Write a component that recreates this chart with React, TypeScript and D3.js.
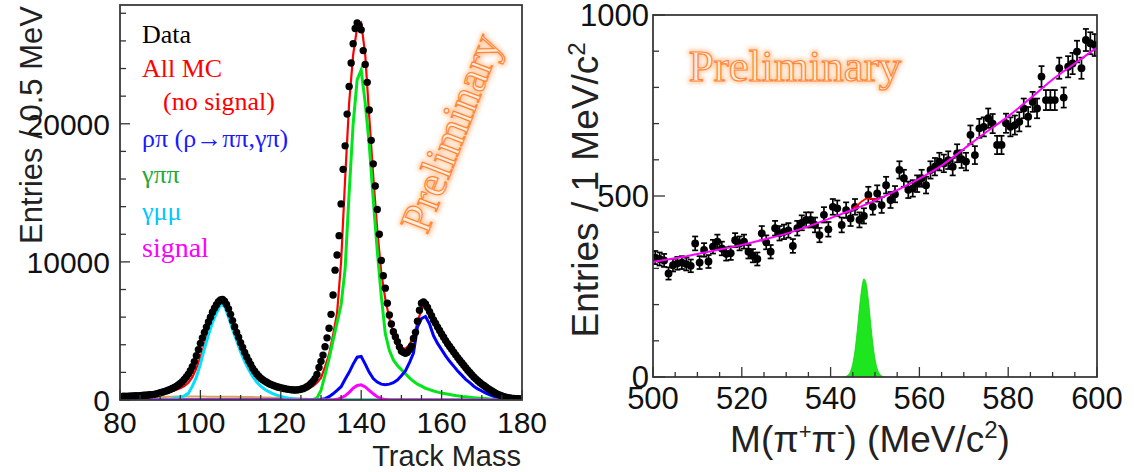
import React from "react";
import * as d3 from "d3";

// ---------------- Left panel: Track Mass ----------------
const dataStart = 80;
const dataBin = 0.5;
// Data entries per 0.5 MeV bin, 80.0 ... 180.0
const dataCounts = [
  260, 250, 270, 260, 280, 270, 290, 290, 310, 300,
  320, 330, 340, 350, 360, 375, 390, 410, 440, 480,
  530, 570, 610, 660, 710, 770, 830, 900, 990, 1090,
  1200, 1330, 1480, 1660, 1870, 2120, 2420, 2780, 3200, 3650,
  4100, 4500, 4900, 5280, 5650, 6000, 6350, 6650, 6900, 7120,
  7250, 7280, 7150, 6920, 6600, 6200, 5750, 5300, 4900, 4550,
  4150, 3800, 3450, 3140, 2850, 2580, 2300, 2080, 1880, 1720,
  1580, 1470, 1370, 1280, 1200, 1130, 1070, 1010, 960, 920,
  880, 850, 820, 790, 770, 750, 730, 720, 730, 750,
  780, 820, 880, 960, 1060, 1190, 1340, 1550, 1850, 2350,
  2800, 3250, 3860, 4500, 5200, 6200, 7600, 9400, 10500, 11900,
  14200, 16700, 18400, 20700, 22700, 24400, 25800, 26900, 27300, 27100,
  26800, 25300, 24300, 23000, 21000, 18800, 17100, 15500, 13800, 12000,
  10100, 9000, 8100, 7000, 6150, 5500, 4950, 4580, 4230, 3850,
  3550, 3450, 3380, 3450, 3650, 3900, 4450, 4900, 5700, 6500,
  7000, 7100, 6950, 6700, 6400, 6100, 5800, 5550, 5280, 5030,
  4780, 4550, 4300, 4080, 3870, 3670, 3470, 3270, 3070, 2880,
  2700, 2520, 2340, 2160, 1990, 1830, 1670, 1530, 1400, 1270,
  1150, 1050, 940, 840, 740, 650, 560, 480, 410, 350,
  290, 240, 200, 170, 140, 120, 110, 100, 90, 80,
  80,
];

// MC histograms per 1 MeV, 80 ... 180
const mcStart = 80;
const mcBin = 1;
const allMC = [
  280, 290, 300, 310, 320, 330, 345, 360, 380, 410,
  450, 500, 560, 640, 740, 860, 1000, 1250, 1650, 2300,
  3100, 4000, 5000, 6000, 6900, 7400, 7100, 6500, 5700, 4850,
  4100, 3400, 2800, 2250, 1850, 1550, 1330, 1160, 1030, 930,
  850, 780, 720, 680, 660, 680, 740, 850, 1000, 1250,
  1600, 2400, 3300, 4700, 6300, 10000, 16000, 21500, 25000, 27000,
  27300, 25000, 20500, 16200, 12300, 9200, 7300, 5900, 4900, 4200,
  3800, 3700, 4000, 4600, 5600, 6600, 6800, 6400, 5900, 5350,
  4850, 4400, 3950, 3550, 3150, 2800, 2450, 2150, 1850, 1550,
  1300, 1050, 830, 640, 480, 350, 250, 170, 110, 80,
  60,
];
const rhoPi = [
  0, 0, 0, 0, 0, 0, 0, 0, 0, 0,
  0, 0, 0, 0, 0, 0, 0, 0, 0, 0,
  0, 0, 0, 0, 0, 0, 0, 0, 0, 0,
  0, 0, 0, 0, 0, 0, 0, 0, 0, 0,
  0, 0, 0, 0, 0, 0, 0, 0, 0, 20,
  50, 100, 240, 450, 700, 960, 1500, 2000, 2600, 3100,
  3150, 2600, 2000, 1550, 1300, 1150, 1100, 1150, 1250, 1450,
  1750, 2100, 2700, 3400, 5300, 5900, 6050, 5500, 4650, 4100,
  3650, 3200, 2800, 2450, 2100, 1800, 1500, 1250, 1000, 800,
  650, 500, 370, 260, 160, 90, 40, 10, 0, 0,
  0,
];
const gammaPiPi = [
  0, 0, 0, 0, 0, 0, 0, 0, 0, 0,
  0, 0, 0, 0, 0, 0, 0, 0, 0, 0,
  0, 0, 0, 0, 0, 0, 0, 0, 0, 0,
  0, 0, 0, 0, 0, 0, 0, 0, 0, 0,
  0, 0, 0, 0, 0, 0, 0, 0, 20, 150,
  700, 1800, 3000, 4300, 5600, 6900, 9500, 15000, 20000, 23200,
  23900, 21500, 18500, 14500, 10800, 7500, 4800, 3600, 2900, 2500,
  2200, 1900, 1600, 1350, 1150, 1000, 850, 750, 650, 570,
  500, 450, 400, 350, 300, 260, 230, 200, 170, 140,
  120, 100, 80, 60, 45, 30, 20, 10, 5, 0,
  0,
];
const gammaMuMu = [
  0, 0, 0, 0, 0, 0, 0, 0, 0, 0,
  10, 20, 40, 70, 120, 200, 300, 480, 1000, 1650,
  2600, 3700, 4700, 5600, 6300, 6900, 6800, 6000, 5100, 4300,
  3500, 2800, 2200, 1700, 1300, 1000, 780, 600, 460, 350,
  260, 190, 130, 90, 60, 35, 15, 5, 0, 0,
  0, 0, 0, 0, 0, 0, 0, 0, 0, 0,
  0, 0, 0, 0, 0, 0, 0, 0, 0, 0,
  0, 0, 0, 0, 0, 0, 0, 0, 0, 0,
  0, 0, 0, 0, 0, 0, 0, 0, 0, 0,
  0, 0, 0, 0, 0, 0, 0, 0, 0, 0,
  0,
];
const signalMC = [
  0, 0, 0, 0, 0, 0, 0, 0, 0, 0,
  0, 0, 0, 0, 0, 0, 0, 0, 0, 0,
  0, 0, 0, 0, 0, 0, 0, 0, 0, 0,
  0, 0, 0, 0, 0, 0, 0, 0, 0, 0,
  0, 0, 0, 0, 0, 0, 0, 0, 0, 0,
  0, 0, 0, 0, 50, 150, 300, 550, 850, 1050,
  1100, 950, 700, 450, 230, 100, 30, 0, 0, 0,
  0, 0, 0, 0, 0, 0, 0, 0, 0, 0,
  0, 0, 0, 0, 0, 0, 0, 0, 0, 0,
  0, 0, 0, 0, 0, 0, 0, 0, 0, 0,
  0,
];
const otherMC = [
  0, 0, 0, 0, 0, 0, 50, 100, 150, 180,
  200, 220, 230, 240, 250, 250, 250, 250, 250, 250,
  250, 250, 240, 240, 240, 240, 230, 230, 230, 230,
  220, 220, 210, 210, 200, 200, 190, 180, 170, 160,
  150, 140, 130, 120, 110, 100, 90, 80, 80, 70,
  70, 70, 60, 60, 60, 60, 60, 60, 60, 60,
  60, 60, 60, 60, 60, 60, 60, 60, 60, 60,
  60, 60, 60, 55, 55, 50, 50, 50, 45, 45,
  40, 40, 35, 35, 30, 30, 25, 25, 20, 20,
  15, 15, 10, 10, 5, 5, 0, 0, 0, 0,
  0,
];
const leftXTicks = [80, 100, 120, 140, 160, 180];
const leftYTicks = [0, 10000, 20000];
const legendItems = [
  { label: "Data", color: "#000000" },
  { label: "All MC", color: "#ff0000" },
  { label: "(no signal)", color: "#ff0000" },
  { label: "ρπ (ρ→ππ,γπ)", color: "#1a1aff" },
  { label: "γππ", color: "#22aa33" },
  { label: "γμμ", color: "#00c8ff" },
  { label: "signal", color: "#ff00ff" },
];

// ---------------- Right panel: M(pi+ pi-) ----------------
const rightStart = 500.5;
const rightBin = 1;
const rightCounts = [
  330, 326, 322, 286, 309, 314, 316, 312, 307, 369,
  316, 351, 319, 360, 374, 355, 340, 342, 378, 369,
  374, 346, 335, 326, 397, 372, 346, 411, 397, 401,
  405, 362, 411, 426, 434, 434, 420, 392, 448, 408,
  470, 466, 420, 461, 438, 470, 434, 445, 503, 470,
  507, 475, 530, 489, 505, 572, 549, 517, 521, 534,
  549, 530, 572, 581, 595, 590, 599, 581, 618, 602,
  595, 669, 613, 687, 691, 715, 700, 641, 641, 701,
  691, 696, 705, 742, 719, 760, 742, 830, 765, 765,
  765, 853, 772, 857, 866, 899, 853, 931, 922, 917,
];
const fitMass = [500, 505, 510, 515, 520, 525, 530, 535, 540, 545, 550, 555, 560, 565, 570, 575, 580, 585, 590, 595, 600];
const fitBackground = [318, 328, 340, 352, 365, 380, 396, 416, 439, 462, 487, 516, 548, 584, 630, 676, 720, 770, 822, 866, 910];
const fitTotalMass = [545, 546, 547, 548, 549, 550, 551];
const fitTotal = [466, 474, 485, 493, 493, 490, 494];
const signalMass = [543, 543.5, 544, 544.5, 545, 545.5, 546, 546.5, 547, 547.5, 548, 548.5, 549, 549.5, 550, 550.5, 551, 551.5, 552];
const signalShape = [0, 2, 6, 16, 37, 74, 128, 190, 244, 271, 259, 214, 152, 94, 50, 23, 9, 3, 0];
const rightXTicks = [500, 520, 540, 560, 580, 600];
const rightYTicks = [0, 500, 1000];

const SANS = "'Liberation Sans', Arial, Helvetica, sans-serif";
const SERIF = "'Liberation Serif', 'Times New Roman', serif";

function Preliminary({ x, y, angle, size }: { x: number; y: number; angle: number; size: number }) {
  return (
    <g transform={`translate(${x},${y}) rotate(${angle})`}>
      <text
        textAnchor="middle"
        y={size * 0.33}
        fontFamily={SERIF}
        fontSize={size}
        fill="none"
        stroke="#ffa866"
        strokeWidth={4.5}
        opacity={0.6}
        filter="url(#glow)"
      >
        Preliminary
      </text>
      <text
        textAnchor="middle"
        y={size * 0.33}
        fontFamily={SERIF}
        fontSize={size}
        fill="#ffeede"
        stroke="#ff8636"
        strokeWidth={1.2}
      >
        Preliminary
      </text>
    </g>
  );
}

export default function App() {
  // left scales
  const xL = d3.scaleLinear().domain([80, 180]).range([120, 522]);
  const yL = d3.scaleLinear().domain([0, 28600]).range([400, 5]);
  // right scales
  const xR = d3.scaleLinear().domain([500, 600]).range([653, 1097]);
  const yR = d3.scaleLinear().domain([0, 1000]).range([377, 15]);

  const mcPath = (vals: number[]) =>
    d3
      .line<number>()
      .x((_, i) => xL(mcStart + i * mcBin))
      .y((v) => yL(v))(vals) || "";

  const leftMinorX = d3.range(80, 181, 5);
  const leftMinorY = d3.range(0, 28001, 2000);
  const rightMinorX = d3.range(500, 601, 5);
  const rightMinorY = d3.range(0, 1001, 100);

  const bgPath =
    d3
      .line<number>()
      .x((_, i) => xR(fitMass[i]))
      .y((v) => yR(v))
      .curve(d3.curveMonotoneX)(fitBackground) || "";
  const totPath =
    d3
      .line<number>()
      .x((_, i) => xR(fitTotalMass[i]))
      .y((v) => yR(v))(fitTotal) || "";
  const sigArea =
    d3
      .area<number>()
      .x((_, i) => xR(signalMass[i]))
      .y0(yR(0))
      .y1((v) => yR(v))
      .curve(d3.curveMonotoneX)(signalShape) || "";

  return (
    <svg
      width={1134}
      height={472}
      style={{ position: "absolute", left: 0, top: 0, background: "#fff" }}
      fontFamily={SANS}
    >
      <defs>
        <filter id="glow" x="-20%" y="-20%" width="140%" height="140%">
          <feGaussianBlur stdDeviation="2" />
        </filter>
        <clipPath id="clipL">
          <rect x={120} y={5} width={402} height={395} />
        </clipPath>
        <clipPath id="clipR">
          <rect x={653} y={15} width={444} height={362} />
        </clipPath>
      </defs>
      <rect x={0} y={0} width={1134} height={472} fill="#fff" />

      {/* ================= LEFT PANEL ================= */}
      <g clipPath="url(#clipL)">
        <path d={mcPath(otherMC)} fill="none" stroke="#d9a066" strokeWidth={2} />
        <path d={mcPath(allMC)} fill="none" stroke="#ff0000" strokeWidth={2.2} />
        <path d={mcPath(gammaPiPi)} fill="none" stroke="#00e61a" strokeWidth={3} />
        <path d={mcPath(rhoPi)} fill="none" stroke="#0000ff" strokeWidth={3} />
        <path d={mcPath(gammaMuMu)} fill="none" stroke="#00e0ff" strokeWidth={3} />
        <path d={mcPath(signalMC)} fill="none" stroke="#ff00ff" strokeWidth={3} />
        {dataCounts.map((v, i) => (
          <circle key={i} cx={xL(dataStart + i * dataBin)} cy={yL(v)} r={3.7} fill="#000" />
        ))}
      </g>
      {/* frame */}
      <rect x={120} y={5} width={402} height={395} fill="none" stroke="#3a3a3a" strokeWidth={1.8} />
      {/* ticks */}
      {leftMinorY.map((v) => (
        <line key={"ly" + v} x1={120} x2={120 + (v % 10000 === 0 ? 10 : 6)} y1={yL(v)} y2={yL(v)} stroke="#333" strokeWidth={1.3} />
      ))}
      {leftMinorX.map((v) => (
        <line key={"lx" + v} x1={xL(v)} x2={xL(v)} y1={400} y2={400 - (v % 20 === 0 ? 10 : 5)} stroke="#333" strokeWidth={1.3} />
      ))}
      {leftYTicks.map((v) => (
        <text key={"lyt" + v} x={110} y={yL(v) + 11} textAnchor="end" fontSize={30} fill="#111">
          {v}
        </text>
      ))}
      {leftXTicks.map((v) => (
        <text key={"lxt" + v} x={xL(v)} y={433} textAnchor="middle" fontSize={30} fill="#111">
          {v}
        </text>
      ))}
      <text x={521} y={466} textAnchor="end" fontSize={29} fill="#222">
        Track Mass
      </text>
      <text transform="translate(42,125) rotate(-90)" textAnchor="middle" fontSize={31} fill="#222">
        Entries / 0.5 MeV
      </text>
      {/* legend */}
      {legendItems.map((it, i) => (
        <text
          key={"lg" + i}
          x={it.label.startsWith("(") ? 163 : 142}
          y={[43, 77, 110, 147, 183, 220, 257][i]}
          fontFamily={SERIF}
          fontSize={i === 6 ? 28 : 26}
          fill={it.color}
        >
          {it.label}
        </text>
      ))}
      <Preliminary x={451} y={133} angle={-69} size={44} />

      {/* ================= RIGHT PANEL ================= */}
      <g clipPath="url(#clipR)">
        <path d={sigArea} fill="#1ee61e" stroke="#14d014" strokeWidth={0.8} />
        {rightCounts.map((v, i) => {
          const m = rightStart + i * rightBin;
          const e = Math.sqrt(v);
          const cx = xR(m);
          return (
            <g key={"rp" + i} stroke="#000" strokeWidth={1.7}>
              <line x1={cx} x2={cx} y1={yR(v - e)} y2={yR(v + e)} />
              <line x1={cx - 3} x2={cx + 3} y1={yR(v - e)} y2={yR(v - e)} />
              <line x1={cx - 3} x2={cx + 3} y1={yR(v + e)} y2={yR(v + e)} />
              <line x1={xR(m - 0.5)} x2={xR(m + 0.5)} y1={yR(v)} y2={yR(v)} />
            </g>
          );
        })}
        {rightCounts.map((v, i) => (
          <circle key={"rc" + i} cx={xR(rightStart + i * rightBin)} cy={yR(v)} r={3.9} fill="#000" />
        ))}
        <path d={totPath} fill="none" stroke="#ff0000" strokeWidth={1.8} />
        <path d={bgPath} fill="none" stroke="#ff00ff" strokeWidth={2} />
      </g>
      <rect x={653} y={15} width={444} height={362} fill="none" stroke="#3a3a3a" strokeWidth={1.8} />
      {rightMinorY.map((v) => (
        <line key={"ry" + v} x1={653} x2={653 + (v % 500 === 0 ? 12 : 6)} y1={yR(v)} y2={yR(v)} stroke="#333" strokeWidth={1.3} />
      ))}
      {rightMinorX.map((v) => (
        <line key={"rx" + v} x1={xR(v)} x2={xR(v)} y1={377} y2={377 - (v % 20 === 0 ? 10 : 5)} stroke="#333" strokeWidth={1.3} />
      ))}
      {rightYTicks.map((v) => (
        <text key={"ryt" + v} x={649} y={yR(v) + 11} textAnchor="end" fontSize={31} fill="#111">
          {v}
        </text>
      ))}
      {rightXTicks.map((v) => (
        <text key={"rxt" + v} x={xR(v)} y={409} textAnchor="middle" fontSize={31} fill="#111">
          {v}
        </text>
      ))}
      <text x={870} y={452} textAnchor="middle" fontSize={37} fill="#222">
        M(π<tspan dy={-13} fontSize={22}>+</tspan>
        <tspan dy={13}>π</tspan>
        <tspan dy={-13} fontSize={22}>-</tspan>
        <tspan dy={13}>) (MeV/c</tspan>
        <tspan dy={-14} fontSize={24}>2</tspan>
        <tspan dy={14}>)</tspan>
      </text>
      <text transform="translate(598,190) rotate(-90)" textAnchor="middle" fontSize={37} fill="#222">
        Entries / 1 MeV/c<tspan dy={-13} fontSize={24}>2</tspan>
      </text>
      <Preliminary x={795} y={66} angle={0} size={45} />
    </svg>
  );
}
